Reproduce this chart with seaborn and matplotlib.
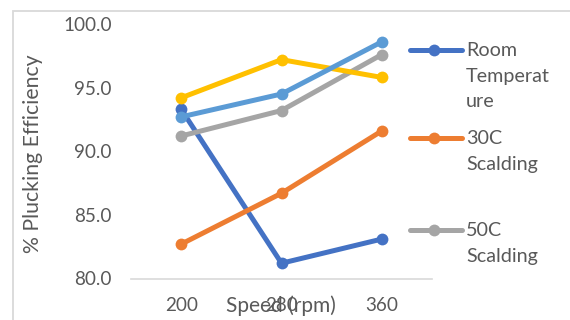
import matplotlib
matplotlib.use("Agg")
import matplotlib.pyplot as plt
import seaborn as sns
import pandas as pd
from matplotlib.lines import Line2D
from matplotlib.patches import Rectangle

# ---- data ----
speeds = ["200", "280", "360"]
series_names = ["Room Temperature", "30C Scalding", "50C Scalding", "Series 4", "Series 5"]
room_temp = [93.3, 81.2, 83.1]
scald_30 = [82.7, 86.7, 91.6]
scald_50 = [91.2, 93.2, 97.6]
series_4 = [94.2, 97.2, 95.8]
series_5 = [92.7, 94.5, 98.6]
y_ticks = [80.0, 85.0, 90.0, 95.0, 100.0]
legend_labels = ["Room\nTemperat\nure", "30C\nScalding", "50C\nScalding"]

colors = ["#4472C4", "#ED7D31", "#A5A5A5", "#FFC000", "#5B9BD5"]
text_color = "#595959"
grid_color = "#D9D9D9"

rows = []
for name, vals in zip(series_names, [room_temp, scald_30, scald_50, series_4, series_5]):
    for s, v in zip(speeds, vals):
        rows.append({"Speed": s, "Value": v, "Series": name})
df = pd.DataFrame(rows)

sns.set_theme(style="white")
plt.rcParams["font.family"] = ["Lato", "DejaVu Sans"]

W, H = 570, 320
fig = plt.figure(figsize=(W / 100, H / 100), dpi=100)

# outer chart frame (cropped)
fig.add_artist(Rectangle((12.5 / W, -0.1), 1.2, (H - 10.5) / H + 0.1,
                         transform=fig.transFigure, fill=False,
                         edgecolor=grid_color, linewidth=1.3))

ax_left, ax_right, ax_top, ax_bot = 131, 432, 24, 278.5
ax = fig.add_axes([ax_left / W, 1 - ax_bot / H, (ax_right - ax_left) / W, (ax_bot - ax_top) / H])

sns.lineplot(data=df, x="Speed", y="Value", hue="Series", hue_order=series_names,
             palette=colors, marker="o", markersize=8.5, markeredgewidth=0,
             linewidth=3.6, sort=False, legend=False, ax=ax)

ax.set_xlim(-0.5, 2.5)
ax.set_ylim(80, 100)
ax.set_yticks(y_ticks)
ax.set_yticklabels([f"{t:.1f}" for t in y_ticks])
for sp in ["top", "right", "left"]:
    ax.spines[sp].set_visible(False)
ax.spines["bottom"].set_color(grid_color)
ax.spines["bottom"].set_linewidth(1.2)
ax.spines["bottom"].set_zorder(0)
ax.tick_params(axis="both", length=0, labelsize=13.6, colors=text_color)
ax.tick_params(axis="y", pad=14)
ax.tick_params(axis="x", pad=13)
ax.set_xlabel("")
ax.set_ylabel("% Plucking Efficiency", fontsize=15.3, color=text_color)
ax.yaxis.set_label_coords((43 - ax_left) / (ax_right - ax_left), 0.49)
ax.set_facecolor("none")
for l in ax.lines:
    l.set_clip_on(False)

# overlapping axis title as in the reference
fig.text(281 / W, 1 - 306 / H, "Speed (rpm)", ha="center", va="center",
         fontsize=15, color=text_color)

# legend (manually placed, cropped at the bottom like the reference)
legend_y = [50, 138, 230]
for lbl, c, y in zip(legend_labels, colors[:3], legend_y):
    yy = 1 - y / H
    fig.add_artist(Line2D([410 / W, 434 / W, 462 / W], [yy, yy, yy], transform=fig.transFigure,
                          color=c, linewidth=3.6, marker="o", markevery=[1],
                          markersize=8.5, markeredgewidth=0, solid_capstyle="round"))
    fig.text(466 / W, yy + 8 / H, lbl, ha="left", va="top", fontsize=14.2,
             color=text_color, linespacing=1.62)

fig.savefig("out.png", dpi=100)
